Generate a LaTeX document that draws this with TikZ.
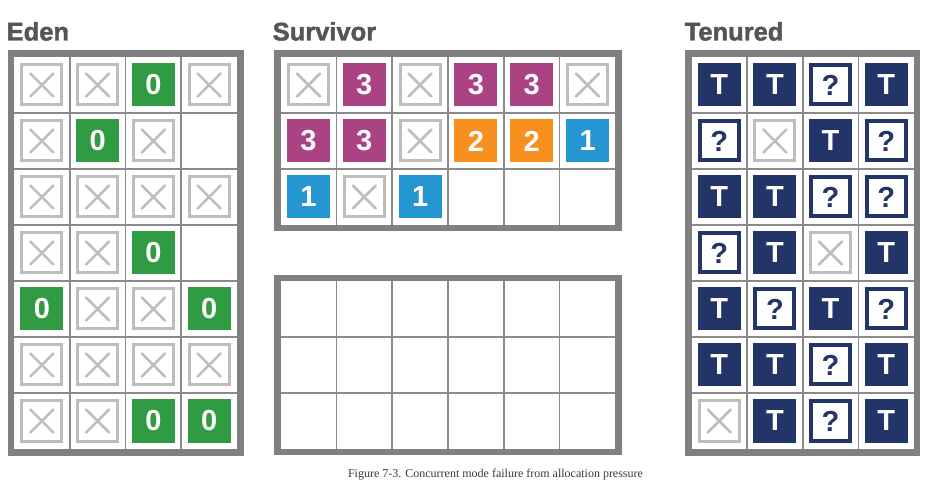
\documentclass[tikz,border=0pt]{standalone}
\usepackage{fontspec}
\setmainfont{Liberation Sans}
\newfontfamily\capserif{Liberation Serif}
\newfontfamily\heavysans[FakeBold=1.6]{Liberation Sans Bold}
\definecolor{framegray}{HTML}{808080}
\definecolor{gridgray}{HTML}{8A8A8A}
\definecolor{xgray}{HTML}{BDBDBD}
\definecolor{titlegray}{HTML}{555555}
\definecolor{capgray}{HTML}{3A3A3A}
\definecolor{cgreen}{HTML}{2F9B42}
\definecolor{cmag}{HTML}{AB4283}
\definecolor{corange}{HTML}{F7901E}
\definecolor{cblue}{HTML}{2596D1}
\definecolor{cnavy}{HTML}{233469}
\newcommand\cellfont{\fontsize{29}{29}\selectfont\bfseries}
\newcommand\titlefont{\heavysans\fontsize{25.5}{26}\selectfont}
\newcommand\captionfont{\capserif\fontsize{12}{14}\selectfont}
\tikzset{
  frame/.style={draw=framegray, line width=6.5pt},
  gridline/.style={draw=gridgray, line width=1.6pt},
  numbox/.style={rectangle, fill=#1, minimum size=43pt, inner sep=0pt, text=white, font=\cellfont},
  qbox/.style={rectangle, draw=cnavy, line width=4pt, fill=white, minimum size=39pt, inner sep=0pt, text=cnavy, font=\cellfont},
  title/.style={font=\titlefont, text=titlegray, anchor=base west, inner sep=0pt},
  xmark/.pic={
    \draw[draw=xgray, line width=3pt] (-20,-20) rectangle (20,20);
    \draw[draw=xgray, line width=2.6pt, line cap=round] (-11.5,-11.5) -- (11.5,11.5) (-11.5,11.5) -- (11.5,-11.5);
  }
}
\newcommand\cellx[3]{\pic at (#1,#2) {xmark};}
\newcommand\celle[3]{}
\newcommand\cellg[3]{\node[numbox=cgreen] (#3) at (#1,#2) {0};}
\newcommand\cellm[3]{\node[numbox=cmag] (#3) at (#1,#2) {3};}
\newcommand\cello[3]{\node[numbox=corange] (#3) at (#1,#2) {2};}
\newcommand\cellb[3]{\node[numbox=cblue] (#3) at (#1,#2) {1};}
\newcommand\cellt[3]{\node[numbox=cnavy] (#3) at (#1,#2) {T};}
\newcommand\cellq[3]{\node[qbox] (#3) at (#1,#2) {?};}
% #1 x0, #2 y0, #3 cw, #4 ch, #5 cols, #6 rows, #7 name
\newcommand\panelgrid[7]{%
  \foreach \k in {1,...,\numexpr#5-1\relax}{\draw[gridline] ({#1+#3*\k},#2) -- ({#1+#3*\k},{#2+#4*#6});}
  \foreach \k in {1,...,\numexpr#6-1\relax}{\draw[gridline] (#1,{#2+#4*\k}) -- ({#1+#3*#5},{#2+#4*\k});}
  \draw[frame] ({#1-3.25},{#2-3.25}) rectangle ({#1+#3*#5+3.25},{#2+#4*#6+3.25});
}
\newcommand\panelcells[5]{%
  \foreach \row [count=\r] in {#5}{
    \foreach \t [count=\c] in \row {
      \pgfmathsetmacro\cx{#1+#3*(\c-0.5)}
      \pgfmathsetmacro\cy{#2+#4*(\r-0.5)}
      \csname cell\t\endcsname{\cx}{\cy}{c-\r-\c}
    }
  }
}
\begin{document}
\begin{tikzpicture}[x=1pt,y=-1pt]
\useasboundingbox (0,0) rectangle (943,494);
\fill[white] (0,0) rectangle (943,494);
% titles
\node[title] (edenT) at (6.5,40.5) {Eden};
\node[title] (survT) at (272.5,40.5) {Survivor};
\node[title] (tenT) at (684.5,40.5) {Tenured};
% Eden
\panelgrid{14}{57}{55.75}{56}{4}{7}{eden}
\panelcells{14}{57}{55.75}{56}{{x,x,g,x},{x,g,x,e},{x,x,x,x},{x,x,g,e},{g,x,x,g},{x,x,x,x},{x,x,g,g}}
% Survivor 1
\panelgrid{280.5}{57}{55.83}{56}{6}{3}{surv}
\panelcells{280.5}{57}{55.83}{56}{{x,m,x,m,m,x},{m,m,x,o,o,b},{b,x,b,e,e,e}}
% Survivor 2
\panelgrid{280.5}{281.5}{55.83}{55.8}{6}{3}{survb}
% Tenured
\panelgrid{691.5}{57}{55.6}{56}{4}{7}{ten}
\panelcells{691.5}{57}{55.6}{56}{{t,t,q,t},{q,x,t,q},{t,t,q,q},{q,t,x,t},{t,q,t,q},{t,t,q,t},{x,t,q,t}}
% caption
\node[font=\captionfont, text=capgray, anchor=base, inner sep=0pt] (cap) at (495.5,477.5) {Figure 7-3. Concurrent mode failure from allocation pressure};
\end{tikzpicture}
\end{document}
